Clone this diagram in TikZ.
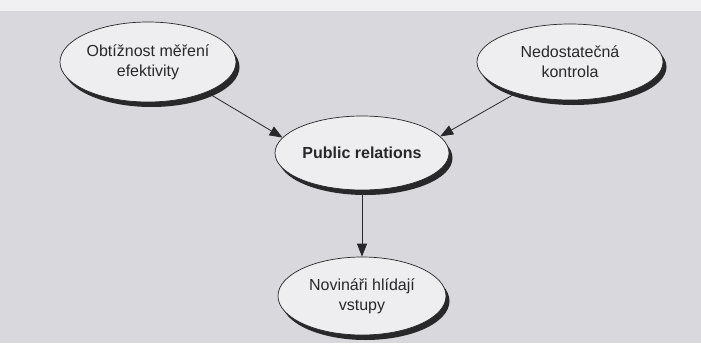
\documentclass[tikz,border=0pt]{standalone}
\usepackage{fontspec}
\setmainfont{Liberation Sans}
\usetikzlibrary{shapes.geometric,shadows,arrows.meta}
\definecolor{paper}{RGB}{216,216,221}
\definecolor{paperTop}{RGB}{240,240,242}
\definecolor{bubble}{RGB}{238,238,241}
\definecolor{ink}{RGB}{40,40,43}
\tikzset{
  bubble/.style={ellipse, draw=ink, line width=0.7pt, fill=bubble,
    inner sep=0pt, align=center, text=ink,
    font=\fontsize{16}{20}\selectfont,
    drop shadow={shadow xshift=3.5pt, shadow yshift=-5pt, fill=ink, opacity=1}},
  link/.style={draw=ink, line width=0.8pt, -{Triangle[length=13pt,width=10pt]}}
}
\begin{document}
\begin{tikzpicture}[x=1pt,y=-1pt]
\useasboundingbox (0,0) rectangle (701,343);
\fill[paper] (0,0) rectangle (701,343);
\fill[paperTop] (0,0) rectangle (701,11);
\node[bubble, minimum width=176pt, minimum height=80pt] (e1) at (148,62) {Obtížnost měření\\efektivity};
\node[bubble, minimum width=186pt, minimum height=76pt] (e2) at (570,62) {Nedostatečná\\kontrola};
\node[bubble, minimum width=174pt, minimum height=74pt, font=\fontsize{16}{20}\selectfont\bfseries] (e3) at (362,153) {Public relations};
\node[bubble, minimum width=168pt, minimum height=78pt] (e4) at (362,296) {Novináři hlídají\\vstupy};
\draw[link] ([xshift=2pt,yshift=-3pt]e1.-26) -- (e3.169);
\draw[link] (e2.-150) -- (e3.12);
\draw[link] ([yshift=-4pt]e3.south) -- (e4.north);
\end{tikzpicture}
\end{document}
